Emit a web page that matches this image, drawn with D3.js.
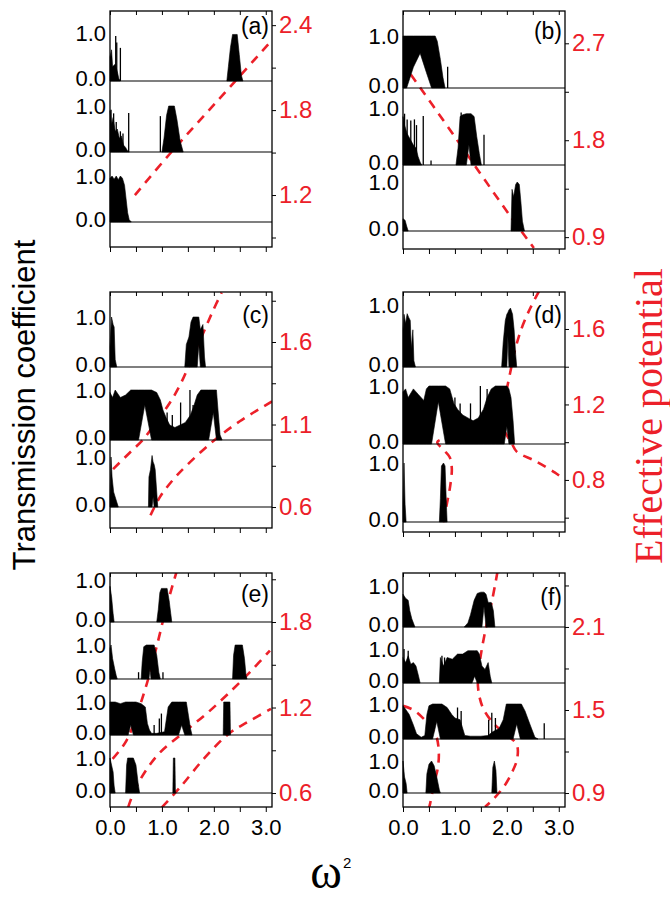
<!DOCTYPE html>
<html>
<head>
<meta charset="utf-8">
<title>Transmission coefficient and effective potential</title>
<script src="https://cdnjs.cloudflare.com/ajax/libs/d3/7.8.5/d3.min.js"></script>
<style>
  body { margin: 0; background: #fff; }
</style>
</head>
<body>
<div id="chart"></div>
<script>

// x axis (omega^2) ticks, shared by every panel
var wTicks = [0, 0.5, 1, 1.5, 2, 2.5, 3];
var wLabels = [0, 1, 2, 3];
var tTicks = [0, 1];

// right axis (effective potential) ticks and labels per panel
var vTicksA = [0.9, 1.2, 1.5, 1.8, 2.1, 2.4], vLabA = [1.2, 1.8, 2.4];
var vTicksB = [0.9, 1.35, 1.8, 2.25, 2.7],    vLabB = [0.9, 1.8, 2.7];
var vTicksC = [0.6, 0.85, 1.1, 1.35, 1.6, 1.85], vLabC = [0.6, 1.1, 1.6];
var vTicksD = [0.6, 0.8, 1.0, 1.2, 1.4, 1.6], vLabD = [0.8, 1.2, 1.6];
var vTicksE = [0.6, 0.9, 1.2, 1.5, 1.8, 2.1], vLabE = [0.6, 1.2, 1.8];
var vTicksF = [0.9, 1.2, 1.5, 1.8, 2.1, 2.4], vLabF = [0.9, 1.5, 2.1];

// transmission spectra: for each sub plot a list of filled bands [w2, upper T, lower T]
var specA = [
  [[[0,0.5],[0.03,0.65],[0.05,0.3],[0.1,0.35],[0.14,0.2],[0.17,0.05],[0.2,0]],
   [[2.25,0],[2.28,0.3],[2.32,0.7],[2.36,0.97],[2.45,0.97],[2.49,0.55],[2.53,0.12],[2.56,0]]],
  [[[0,0.9],[0.03,0.6],[0.06,0.75],[0.1,0.45],[0.14,0.5],[0.18,0.3],[0.22,0.35],[0.26,0.15],[0.3,0.1],[0.34,0.02],[0.37,0]],
   [[1.0,0],[1.04,0.3],[1.09,0.8],[1.13,1.0],[1.24,1.0],[1.29,0.7],[1.35,0.25],[1.41,0]]],
  [[[0,0.95],[0.04,1.0],[0.08,0.93],[0.12,1.0],[0.16,0.92],[0.2,1.0],[0.24,0.95],[0.28,0.8],[0.31,0.5],[0.34,0.2],[0.37,0.05],[0.41,0]]]
];
var spikeA = [
  [[0.11,0.94],[0.13,0.8],[0.2,0.69]],
  [[0.02,0.92],[0.07,0.84],[0.12,0.65],[0.2,0.45],[0.25,0.4],[0.36,0.85],[0.97,0.78]],
  []
];

var specB = [
  [[[0,1.0,0],[0.07,1.0,0],[0.2,1.0,0.4],[0.33,1.0,0.67],[0.45,1.0,0.3],[0.55,1.0,0],[0.62,1.0,0],[0.66,0.9,0],[0.72,0.55,0],[0.77,0.2,0],[0.81,0,0]]],
  [[[0,0.85],[0.03,0.7],[0.08,0.55],[0.14,0.45],[0.2,0.35],[0.25,0.3],[0.29,0.15],[0.33,0.05],[0.36,0]],
   [[1.02,0,0],[1.06,0.3,0],[1.1,0.85,0],[1.15,0.88,0],[1.22,0.9,0],[1.27,0.9,0.35],[1.31,0.9,0],[1.37,0.85,0],[1.42,0.5,0],[1.47,0.2,0],[1.51,0,0]]],
  [[[0,0.25],[0.04,0.22],[0.07,0.1],[0.1,0]],
   [[2.08,0],[2.1,0.85],[2.13,0.7],[2.17,0.95],[2.2,1.0],[2.24,0.95],[2.27,0.6],[2.3,0.2],[2.34,0]]]
];
var spikeB = [
  [[0.86,0.41]],
  [[0.03,0.9],[0.08,0.8],[0.15,0.78],[0.22,0.8],[0.26,0.7],[0.39,0.86],[0.54,0.08],[1.12,0.92],[1.56,0.53]],
  []
];

var specC = [
  [[[0,0.4],[0.03,1.0],[0.06,0.85],[0.08,0.8],[0.1,0.15],[0.13,0]],
   [[1.44,0,0],[1.47,0.45,0],[1.52,0.6,0],[1.56,0.9,0],[1.6,1.0,0],[1.68,1.0,0],[1.71,1.0,0.45],[1.74,0.75,0],[1.79,0.85,0],[1.82,0.2,0],[1.84,0,0]]],
  [[[0,0.95,0],[0.05,0.85,0],[0.1,1.0,0],[0.2,0.85,0],[0.3,0.9,0],[0.4,1.0,0],[0.55,1.0,0],[0.67,1.0,0.7],[0.8,1.0,0],[0.9,0.95,0],[0.97,0.8,0],[1.02,0.6,0],[1.08,0.45,0],[1.15,0.3,0],[1.25,0.25,0],[1.35,0.3,0],[1.45,0.35,0],[1.55,0.5,0],[1.62,0.7,0],[1.68,0.9,0],[1.75,1.0,0],[1.9,1.0,0],[1.99,1.0,0.55],[2.05,1.0,0],[2.08,0.6,0],[2.12,0.1,0],[2.16,0,0]]],
  [[[0,0.2],[0.02,1.0],[0.04,0.6],[0.07,0.3],[0.1,0.2],[0.13,0.1],[0.16,0]],
   [[0.74,0,0],[0.75,0.6,0],[0.78,0.75,0],[0.81,1.03,0],[0.83,0.9,0.2],[0.85,0.85,0],[0.87,0.75,0],[0.9,0.3,0],[0.92,0,0]]]
];
var spikeC = [
  [],
  [[1.1,0.55],[1.2,0.5],[1.36,0.75],[1.54,1.0],[1.6,0.7]],
  []
];

var specD = [
  [[[0,0.6],[0.02,0.85],[0.05,0.7],[0.08,0.86],[0.11,0.8],[0.14,0.75],[0.16,0.3],[0.19,0.6],[0.21,0.1],[0.24,0]],
   [[1.9,0,0],[1.93,0.4,0],[1.97,0.75,0],[2.0,0.85,0],[2.02,0.88,0.5],[2.04,0.92,0],[2.07,0.95,0],[2.11,0.85,0],[2.14,0.6,0],[2.17,0.2,0],[2.19,0,0]]],
  [[[0,0.9,0],[0.05,0.95,0],[0.1,0.8,0],[0.2,0.95,0],[0.3,0.85,0],[0.4,0.75,0],[0.45,0.95,0],[0.5,1.0,0],[0.55,1.0,0],[0.68,1.0,0.73],[0.82,1.0,0],[0.9,0.95,0],[0.98,0.7,0],[1.05,0.6,0],[1.15,0.5,0],[1.25,0.45,0],[1.35,0.4,0],[1.45,0.45,0],[1.55,0.6,0],[1.62,0.8,0],[1.7,0.95,0],[1.78,1.0,0],[1.95,1.0,0],[2.0,1.0,0.3],[2.04,0.95,0],[2.08,0.8,0],[2.12,0.4,0],[2.15,0,0]]],
  [[[0,0.3],[0.02,1.0],[0.04,0.3],[0.06,0]],
   [[0.7,0],[0.72,0.4],[0.74,0.95],[0.78,1.0],[0.81,0.95],[0.84,0.2],[0.85,0]]]
];
var spikeD = [
  [],
  [[1.0,0.8],[1.1,0.7],[1.3,0.7],[1.49,1.0],[1.62,0.95]],
  []
];

var specE = [
  [[[0,0.85],[0.03,0.6],[0.06,0.2],[0.08,0]],
   [[0.9,0],[0.93,0.3],[0.96,0.7],[0.99,0.8],[1.1,0.8],[1.14,0.5],[1.17,0.2],[1.19,0]]],
  [[[0,0.9],[0.02,1.0],[0.05,0.6],[0.09,0.3],[0.12,0.1],[0.14,0]],
   [[0.6,0,0],[0.62,0.5,0],[0.65,0.95,0],[0.7,1.0,0],[0.75,1.0,0],[0.77,1.0,0.3],[0.79,1.0,0],[0.85,1.0,0],[0.9,0.7,0],[0.94,0.2,0],[0.97,0,0]],
   [[2.36,0],[2.38,0.7],[2.41,1.0],[2.55,1.0],[2.59,0.6],[2.62,0.1],[2.64,0]]],
  [[[0,1.0,0],[0.1,1.0,0],[0.2,0.95,0],[0.3,1.0,0],[0.35,1.0,0],[0.4,1.0,0.3],[0.45,1.0,0],[0.5,1.0,0],[0.6,0.95,0],[0.68,0.85,0],[0.72,0.35,0],[0.76,0.15,0],[0.8,0.05,0],[0.9,0.05,0],[1.05,0.1,0],[1.12,0.85,0],[1.19,1.0,0],[1.32,1.0,0],[1.38,1.0,0.3],[1.44,1.0,0],[1.47,1.0,0],[1.51,0.6,0],[1.55,0.2,0],[1.58,0,0]],
   [[2.18,0],[2.19,1.0],[2.31,1.0],[2.32,0]]],
  [[[0,1.0],[0.03,0.8],[0.06,0.6],[0.08,0.2],[0.1,0]],
   [[0.3,0],[0.32,0.8],[0.34,1.0],[0.45,1.0],[0.5,0.8],[0.54,0.3],[0.57,0]],
   [[1.21,0],[1.22,1.0],[1.25,1.0],[1.26,0]]]
];
var spikeE = [
  [],
  [[0.55,0.2],[1.02,0.2]],
  [[0.62,0.6],[0.85,0.3],[0.95,0.5],[0.99,0.65]],
  []
];

var specF = [
  [[[0,0.8],[0.05,0.7],[0.1,0.65],[0.13,0.4],[0.17,0.2],[0.23,0]],
   [[1.18,0,0],[1.25,0.1,0],[1.3,0.3,0],[1.37,0.65,0],[1.43,0.82,0],[1.5,0.85,0],[1.52,0.85,0],[1.56,0.85,0.5],[1.6,0.8,0],[1.64,0.6,0],[1.7,0.6,0],[1.74,0.4,0],[1.77,0,0]]],
  [[[0,0.75],[0.05,0.6],[0.1,0.8],[0.15,0.55],[0.2,0.6],[0.25,0.5],[0.3,0.2],[0.33,0]],
   [[0.7,0,0],[0.72,0.75,0],[0.78,0.5,0],[0.85,0.75,0],[0.95,0.7,0],[1.05,0.85,0],[1.15,0.85,0],[1.25,0.95,0],[1.33,0.95,0],[1.38,0.95,0.2],[1.43,0.95,0],[1.47,0.85,0],[1.52,0.5,0],[1.58,0.4,0],[1.64,0.6,0],[1.68,0.2,0],[1.71,0,0]]],
  [[[0,0.95,0],[0.05,0.85,0],[0.12,0.7,0],[0.2,0.4,0],[0.26,0.15,0],[0.35,0.05,0],[0.42,0.1,0],[0.46,0.7,0],[0.5,0.95,0],[0.57,1.0,0],[0.65,1.0,0.5],[0.72,1.0,0],[0.75,1.0,0],[0.85,0.9,0],[0.94,0.7,0],[1.0,0.6,0],[1.1,0.55,0],[1.19,0.1,0],[1.3,0.08,0],[1.5,0.08,0],[1.64,0.1,0],[1.72,0.2,0],[1.85,0.3,0],[1.93,0.55,0],[1.99,1.0,0],[2.12,1.0,0],[2.19,1.0,0.43],[2.26,1.0,0],[2.28,1.0,0],[2.35,0.8,0],[2.45,0.4,0],[2.54,0.05,0],[2.6,0,0]]],
  [[[0,1.0],[0.03,0.5],[0.06,0.3],[0.08,0]],
   [[0.44,0],[0.46,0.6],[0.5,0.9],[0.55,1.0],[0.6,0.85],[0.65,0.5],[0.7,0.1],[0.72,0]],
   [[1.71,0],[1.73,0.8],[1.76,1.0],[1.79,0.7],[1.81,0]]]
];
var spikeF = [
  [],
  [[0.02,1.0],[0.1,0.95],[0.75,0.8],[0.8,0.75]],
  [[1.05,0.9],[1.12,0.8],[1.65,0.55],[1.71,0.75],[1.78,0.6],[2.72,0.45]],
  []
];

// effective potential curves [w2, V], dashed red
var potA = [[[0.48,1.2],[1.15,1.49],[2.4,2.0],[3.11,2.29]]];
var potB = [[[0.15,2.41],[0.9,1.9],[1.39,1.56],[2.06,1.1],[2.52,0.8]]];
var potC = [
  [[0.06,0.83],[0.35,0.92],[0.64,1.01],[0.9,1.12],[1.15,1.23],[1.35,1.34],[1.51,1.45],[1.65,1.55],[1.79,1.65],[1.97,1.78],[2.15,1.9]],
  [[0.78,0.55],[0.96,0.66],[1.2,0.76],[1.47,0.85],[1.99,1.0],[2.5,1.12],[3.12,1.24]]
];
var potD = [
  [[2.62,1.8],[2.45,1.71],[2.28,1.6],[2.15,1.48],[2.05,1.35],[1.95,1.24],[1.7,1.14],[1.3,1.08],[0.9,1.03],[0.66,1.0],[0.78,0.96],[0.9,0.92],[0.94,0.86],[0.91,0.77],[0.85,0.68],[0.79,0.6],[0.74,0.54]],
  [[1.95,1.06],[2.1,0.99],[2.19,0.95],[2.55,0.9],[2.92,0.84],[3.12,0.8]]
];
var potE = [
  [[0.05,0.84],[0.32,0.97],[0.67,1.32],[0.9,1.63],[1.09,1.91],[1.28,2.15]],
  [[0.35,0.5],[0.5,0.64],[0.9,0.86],[1.4,1.02],[1.9,1.17],[2.37,1.33],[2.7,1.45],[3.08,1.6]],
  [[1.0,0.5],[1.35,0.64],[1.83,0.85],[2.3,1.02],[2.66,1.1],[3.1,1.19]]
];
var potF = [
  [[0.0,1.53],[0.2,1.5],[0.39,1.44],[0.55,1.37],[0.65,1.3],[0.69,1.19],[0.67,1.08],[0.6,0.97],[0.52,0.82],[0.5,0.79]],
  [[1.82,2.5],[1.72,2.3],[1.6,2.1],[1.5,1.9],[1.44,1.72],[1.47,1.6],[1.56,1.5],[1.75,1.4],[2.0,1.32],[2.19,1.25],[2.2,1.15],[2.1,1.05],[1.95,0.95],[1.75,0.86],[1.58,0.8]]
];

var RED = '#ec2029';
var SANS = 'Liberation Sans, Arial, Helvetica, sans-serif';
var SERIF = 'Liberation Serif, Times New Roman, DejaVu Serif, serif';
var fmt = d3.format('.1f');
var PW = 162;   // panel width in px

// panel layout (pixel boxes, sub plot baselines and T=1 heights)
var panels = [
  {tag:'(a)', spec:specA, spikes:spikeA, pot:potA, vTicks:vTicksA, vLab:vLabA,
   left:110, top:11, bottom:247, base:[81,152,222], unit:[48,46,46], vDom:[0.833,2.5], tagY:34, xLab:false},
  {tag:'(b)', spec:specB, spikes:spikeB, pot:potB, vTicks:vTicksB, vLab:vLabB,
   left:403, top:11, bottom:249, base:[88,165,231], unit:[52,57,49], vDom:[0.79,3.0], tagY:39, xLab:false},
  {tag:'(c)', spec:specC, spikes:spikeC, pot:potC, vTicks:vTicksC, vLab:vLabC,
   left:110, top:292, bottom:528, base:[367,440,507], unit:[50,50,50], vDom:[0.473,1.903], tagY:323, xLab:false},
  {tag:'(d)', spec:specD, spikes:spikeD, pot:potD, vTicks:vTicksD, vLab:vLabD,
   left:403, top:292, bottom:532, base:[367,444,522], unit:[62,58,59], vDom:[0.524,1.796], tagY:323, xLab:false},
  {tag:'(e)', spec:specE, spikes:spikeE, pot:potE, vTicks:vTicksE, vLab:vLabE,
   left:110, top:573, bottom:807, base:[622,679,735,793], unit:[42,34,33,35], vDom:[0.502,2.144], tagY:602, xLab:true},
  {tag:'(f)', spec:specF, spikes:spikeF, pot:potF, vTicks:vTicksF, vLab:vLabF,
   left:403, top:573, bottom:807, base:[627,683,739,793], unit:[41,34,35,32], vDom:[0.799,2.49], tagY:605, xLab:true}
];

var svg = d3.select('#chart').append('svg')
            .attr('width', 670)
            .attr('height', 899)
            .attr('font-family', SANS);

panels.forEach(function(p, i) {
  var x = d3.scaleLinear().domain([0, 3.12]).range([p.left, p.left + PW]);
  var v = d3.scaleLinear().domain(p.vDom).range([p.bottom, p.top]);
  var g = svg.append('g');

  svg.append('clipPath').attr('id', 'clip' + i)
     .append('rect')
     .attr('x', p.left).attr('y', p.top)
     .attr('width', PW).attr('height', p.bottom - p.top);

  // dashed potential curves go under the spectra
  var vLine = d3.line()
                .x(function(d) { return x(d[0]); })
                .y(function(d) { return v(d[1]); })
                .curve(d3.curveCatmullRom);
  g.append('g').attr('clip-path', 'url(#clip' + i + ')')
   .selectAll('path')
   .data(p.pot)
   .join('path')
   .attr('d', vLine)
   .attr('fill', 'none')
   .attr('stroke', RED)
   .attr('stroke-width', 2.6)
   .attr('stroke-dasharray', '9,7');

  p.spec.forEach(function(bands, k) {
    var t = d3.scaleLinear().domain([0, 1]).range([p.base[k], p.base[k] - p.unit[k]]);
    var area = d3.area()
                 .x(function(d) { return x(d[0]); })
                 .y0(function(d) { return t(d[2] || 0); })
                 .y1(function(d) { return t(d[1]); });

    g.append('g').selectAll('path')
     .data(bands)
     .join('path')
     .attr('d', area)
     .attr('fill', '#000')
     .attr('stroke', '#000')
     .attr('stroke-width', 0.6);

    g.append('g').selectAll('line')
     .data(p.spikes[k])
     .join('line')
     .attr('x1', function(d) { return x(d[0]); })
     .attr('x2', function(d) { return x(d[0]); })
     .attr('y1', t(0))
     .attr('y2', function(d) { return t(d[1]); })
     .attr('stroke', '#000')
     .attr('stroke-width', 1.3);

    // sub plot baseline
    g.append('line')
     .attr('x1', p.left).attr('x2', p.left + PW)
     .attr('y1', t(0)).attr('y2', t(0))
     .attr('stroke', '#000').attr('stroke-width', 1.1);

    // left T labels
    var ax = g.append('g')
              .attr('transform', 'translate(' + p.left + ',0)')
              .call(d3.axisLeft(t).tickValues(tTicks).tickSize(0).tickPadding(4).tickFormat(fmt));
    ax.select('.domain').remove();
    ax.selectAll('text')
      .attr('font-size', 22).attr('font-family', SANS).attr('fill', '#000')
      .attr('y', function(d) { return d === 0 ? -3 : 0; });
  });

  // frame
  g.append('rect')
   .attr('x', p.left).attr('y', p.top)
   .attr('width', PW).attr('height', p.bottom - p.top)
   .attr('fill', 'none').attr('stroke', '#000').attr('stroke-width', 1.3);

  // bottom and top ticks
  var bx = g.append('g')
            .attr('transform', 'translate(0,' + p.bottom + ')')
            .call(d3.axisBottom(x).tickValues(wTicks).tickSizeInner(5).tickSizeOuter(0).tickPadding(7)
                    .tickFormat(function(d) { return (p.xLab && wLabels.indexOf(d) >= 0) ? fmt(d) : ''; }));
  bx.select('.domain').remove();
  bx.selectAll('text').attr('font-size', 22).attr('font-family', SANS).attr('fill', '#000');

  var tx = g.append('g')
            .attr('transform', 'translate(0,' + p.top + ')')
            .call(d3.axisBottom(x).tickValues(wTicks).tickSizeInner(4).tickSizeOuter(0).tickFormat(''));
  tx.select('.domain').remove();

  // right potential axis
  var rx = g.append('g')
            .attr('transform', 'translate(' + (p.left + PW) + ',0)')
            .call(d3.axisRight(v).tickValues(p.vTicks).tickSizeInner(4).tickSizeOuter(0).tickPadding(3)
                    .tickFormat(function(d) { return p.vLab.indexOf(d) >= 0 ? fmt(d) : ''; }));
  rx.select('.domain').remove();
  rx.selectAll('text').attr('font-size', 24).attr('font-family', SANS).attr('fill', RED);

  g.append('text')
   .attr('x', p.left + PW - 3)
   .attr('y', p.tagY)
   .attr('text-anchor', 'end')
   .attr('font-size', 23)
   .text(p.tag);
});

// axis titles
svg.append('text')
   .attr('transform', 'translate(35,405) rotate(-90)')
   .attr('text-anchor', 'middle')
   .attr('font-size', 31)
   .text('Transmission coefficient');

svg.append('text')
   .attr('transform', 'translate(662,416) rotate(-90)')
   .attr('text-anchor', 'middle')
   .attr('font-size', 40)
   .attr('fill', RED)
   .attr('font-family', SERIF)
   .text('Effective potential');

svg.append('text')
   .attr('x', 326).attr('y', 888)
   .attr('text-anchor', 'middle')
   .attr('font-size', 48)
   .attr('font-family', SERIF)
   .text('\u03c9');
svg.append('text')
   .attr('x', 343).attr('y', 868)
   .attr('font-size', 15)
   .text('2');

</script>
</body>
</html>
